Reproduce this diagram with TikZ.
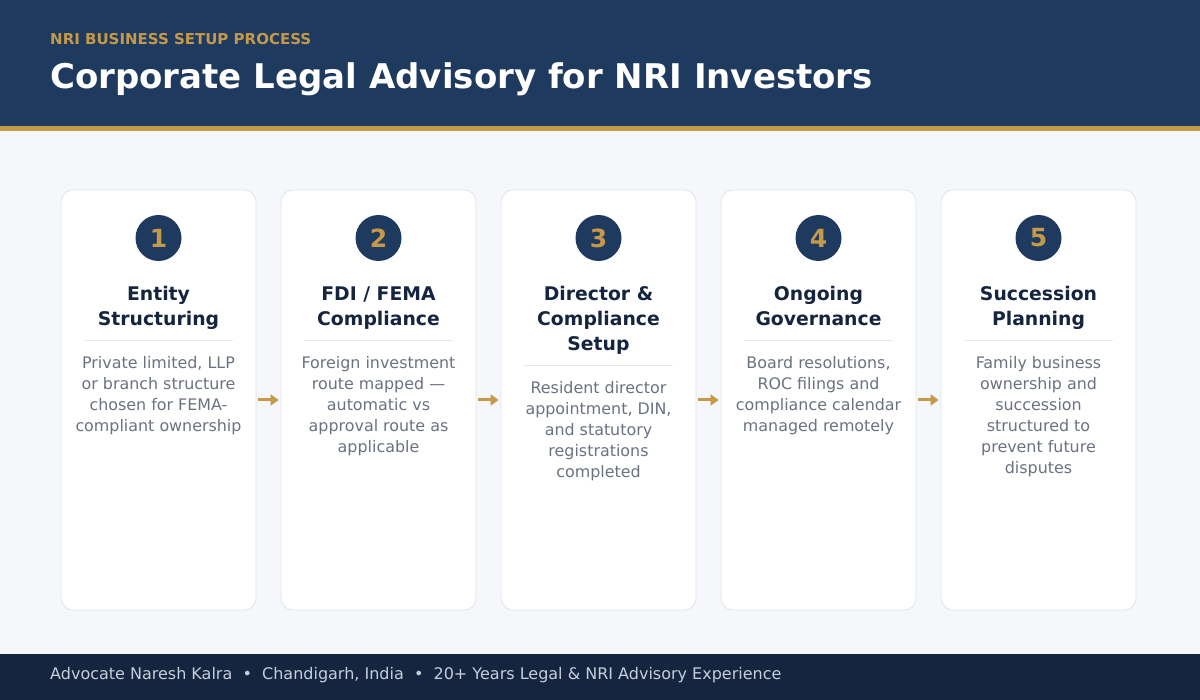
\documentclass[tikz,border=0pt]{standalone}
\usepackage{fontspec}
\setmainfont{DejaVu Sans}
\usetikzlibrary{arrows.meta}
\definecolor{hdr}{HTML}{1F3A5F}
\definecolor{gold}{HTML}{C4994A}
\definecolor{pagebg}{HTML}{F5F7FA}
\definecolor{ftr}{HTML}{15253F}
\definecolor{cardline}{HTML}{E1E5EB}
\definecolor{ttl}{HTML}{15253F}
\definecolor{desc}{HTML}{6B7280}
\definecolor{sepc}{HTML}{E5E7EB}
\definecolor{ftxt}{HTML}{C5CEDA}
\tikzset{
  card/.style={draw=cardline, line width=0.8pt, fill=white, rounded corners=12pt, minimum width=195pt, minimum height=420pt, inner sep=0pt},
  badge/.style={circle, fill=hdr, minimum size=46pt, inner sep=0pt, text=gold, font=\fontsize{25}{25}\selectfont\bfseries},
  steptitle/.style={anchor=base, align=center, inner sep=0pt, text=ttl, font=\fontsize{18.8}{25}\selectfont\bfseries},
  stepdesc/.style={anchor=base, align=center, inner sep=0pt, text=desc, font=\fontsize{15.9}{21}\selectfont},
  sepline/.style={draw=sepc, line width=0.8pt},
  flow/.style={draw=gold, line width=3pt, -{Triangle[length=8pt,width=11pt]}}
}
\begin{document}
\begin{tikzpicture}[x=1pt,y=-1pt]
\useasboundingbox (0,0) rectangle (1200,700);
\fill[pagebg] (0,0) rectangle (1200,700);
\fill[hdr] (0,0) rectangle (1200,126);
\fill[gold] (0,126) rectangle (1200,131);
\fill[ftr] (0,654) rectangle (1200,700);
\node[anchor=base west, inner sep=0pt, text=gold, font=\fontsize{15}{15}\selectfont\bfseries] (sub) at (50,44.5) {NRI BUSINESS SETUP PROCESS};
\node[anchor=base west, inner sep=0pt, text=white, font=\fontsize{34}{34}\selectfont\bfseries] (title) at (50,88.5) {Corporate Legal Advisory for NRI Investors};
\node[anchor=base west, inner sep=0pt, text=ftxt, font=\fontsize{16}{16}\selectfont] (foot) at (50,679.5) {Advocate Naresh Kalra \ \textbullet\ \ Chandigarh, India \ \textbullet\ \ 20+ Years Legal \& NRI Advisory Experience};
% cards
\foreach \i/\x in {1/158.5,2/378.5,3/598.5,4/818.5,5/1038.5}{
  \node[card] (c\i) at (\x,400) {};
  \node[badge] (b\i) at (\x,238) {\i};
}
\node[steptitle] (t1) at (158.5,326) {Entity\\Structuring};
\node[steptitle] (t2) at (378.5,326) {FDI / FEMA\\Compliance};
\node[steptitle] (t3) at (598.5,351) {Director \&\\Compliance\\Setup};
\node[steptitle] (t4) at (818.5,326) {Ongoing\\Governance};
\node[steptitle] (t5) at (1038.5,326) {Succession\\Planning};
\draw[sepline] (84,340.5) -- (233,340.5);
\draw[sepline] (304,340.5) -- (453,340.5);
\draw[sepline] (524,365.5) -- (673,365.5);
\draw[sepline] (744,340.5) -- (893,340.5);
\draw[sepline] (964,340.5) -- (1113,340.5);
\node[stepdesc] (d1) at (158.5,432) {Private limited, LLP\\or branch structure\\chosen for FEMA-\\compliant ownership};
\node[stepdesc] (d2) at (378.5,453) {Foreign investment\\route mapped —\\automatic vs\\approval route as\\applicable};
\node[stepdesc] (d3) at (598.5,478) {Resident director\\appointment, DIN,\\and statutory\\registrations\\completed};
\node[stepdesc] (d4) at (818.5,432) {Board resolutions,\\ROC filings and\\compliance calendar\\managed remotely};
\node[stepdesc] (d5) at (1038.5,474) {Family business\\ownership and\\succession\\structured to\\prevent future\\disputes};
\foreach \a/\b in {1/2,2/3,3/4,4/5}{
  \draw[flow] ([xshift=2pt]c\a.east) -- ([xshift=-2pt]c\b.west);
}
\end{tikzpicture}
\end{document}
